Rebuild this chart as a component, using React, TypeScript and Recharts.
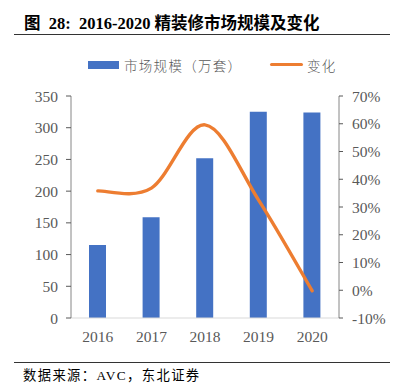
import React from 'react';
import { ComposedChart, Bar, Line, XAxis, YAxis } from 'recharts';

const years = ['2016', '2017', '2018', '2019', '2020'];
const marketSize = [115, 159, 252, 325, 324];
const change = [35.8, 36.8, 59.6, 32.5, -0.2];
const leftTicks = [0, 50, 100, 150, 200, 250, 300, 350];
const rightTicks = [-10, 0, 10, 20, 30, 40, 50, 60, 70];

const data = years.map((y, i) => ({ year: y, size: marketSize[i], change: change[i] }));

function excelCurve(context: any) {
  let pts: number[][] = [];
  return {
    areaStart() {},
    areaEnd() {},
    lineStart() { pts = []; },
    point(x: number, y: number) { pts.push([+x, +y]); },
    lineEnd() {
      const n = pts.length;
      if (!n) return;
      context.moveTo(pts[0][0], pts[0][1]);
      for (let i = 0; i < n - 1; i++) {
        const p0 = pts[i - 1] || pts[i];
        const p1 = pts[i];
        const p2 = pts[i + 1];
        const p3 = pts[i + 2] || pts[i + 1];
        const c1x = p1[0] + (p2[0] - p0[0]) / 6;
        const c1y = p1[1] + (p2[1] - p0[1]) / 6;
        const c2x = p2[0] - (p3[0] - p1[0]) / 6;
        const c2y = p2[1] - (p3[1] - p1[1]) / 6;
        context.bezierCurveTo(c1x, c1y, c2x, c2y, p2[0], p2[1]);
      }
    },
  };
}

const tickStyle = { fill: '#595959', fontSize: 15.5, fontFamily: '"Liberation Serif", "Times New Roman", serif' };

export default function App() {
  return (
    <div style={{ position: 'absolute', left: 0, top: 0, width: 396, height: 392, background: '#fff', overflow: 'hidden' }}>
      <div style={{ position: 'absolute', left: 24, top: 13, fontSize: 16.5, fontWeight: 'bold', fontFamily: '"Liberation Serif", "Noto Sans CJK SC", serif', color: '#000', whiteSpace: 'nowrap', lineHeight: '22px' }}>
        图&nbsp;&nbsp;28:&nbsp;&nbsp;2016-2020 精装修市场规模及变化
      </div>
      <div style={{ position: 'absolute', left: 14, top: 34, width: 376, height: 1, background: '#333' }} />
      <div style={{ position: 'absolute', left: 88, top: 61, width: 31, height: 8, background: '#4472C4' }} />
      <div style={{ position: 'absolute', left: 124, top: 55, fontSize: 13.5, fontFamily: '"Noto Sans CJK SC", sans-serif', fontWeight: 300, color: '#595959', whiteSpace: 'nowrap', lineHeight: '20px', letterSpacing: 1.3 }}>
        市场规模（万套）
      </div>
      <div style={{ position: 'absolute', left: 270, top: 63, width: 33, height: 3, background: '#ED7D31', borderRadius: 2 }} />
      <div style={{ position: 'absolute', left: 307, top: 55, fontSize: 13.5, fontFamily: '"Noto Sans CJK SC", sans-serif', fontWeight: 300, color: '#595959', whiteSpace: 'nowrap', lineHeight: '20px', letterSpacing: 1.3 }}>
        变化
      </div>
      <div style={{ position: 'absolute', left: 0, top: 0 }}>
        <ComposedChart width={396} height={392} data={data} margin={{ top: 96, right: 7, bottom: 44, left: 21 }}>
          <XAxis dataKey="year" tick={tickStyle} tickLine={false} axisLine={{ stroke: '#D9D9D9' }} height={30} tickMargin={7} />
          <YAxis yAxisId="left" orientation="left" domain={[0, 350]} ticks={leftTicks} width={50} tick={tickStyle} tickLine={{ stroke: '#595959' }} tickSize={5} axisLine={{ stroke: '#868686' }} interval={0} tickMargin={8} />
          <YAxis yAxisId="right" orientation="right" domain={[-10, 70]} ticks={rightTicks} width={50} tick={tickStyle} tickLine={{ stroke: '#595959' }} tickSize={4} axisLine={{ stroke: '#868686' }} interval={0} tickFormatter={(v: number) => `${v}%`} tickMargin={9} />
          <Bar yAxisId="left" dataKey="size" fill="#4472C4" barSize={17} isAnimationActive={false} />
          <Line yAxisId="right" dataKey="change" type={excelCurve as any} stroke="#ED7D31" strokeWidth={3.4} dot={false} isAnimationActive={false} strokeLinecap="round" />
        </ComposedChart>
      </div>
      <div style={{ position: 'absolute', left: 14, top: 362, width: 376, height: 1, background: '#333' }} />
      <div style={{ position: 'absolute', left: 23, top: 366, fontSize: 13.3, fontFamily: '"Liberation Serif", "Noto Sans CJK SC", serif', color: '#000', whiteSpace: 'nowrap', lineHeight: '20px', letterSpacing: 1.4 }}>
        数据来源：AVC，东北证券
      </div>
    </div>
  );
}
